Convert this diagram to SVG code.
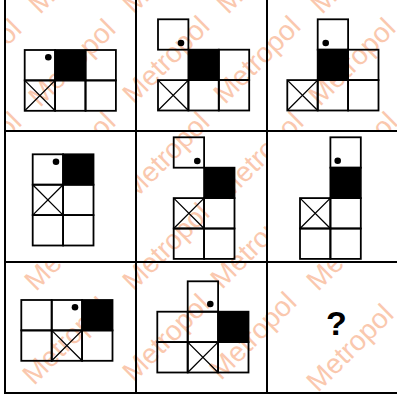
<svg xmlns="http://www.w3.org/2000/svg" width="397" height="396" viewBox="0 0 397 396">
<style>
.wm{font-family:"Liberation Sans",Arial,sans-serif;font-size:28px;fill:#fac8ae}
.sq{fill:none;stroke:#000;stroke-width:1.8}
.bk{fill:#000;stroke:#000;stroke-width:1.8}
.x{stroke:#000;stroke-width:1.3}
.dot{fill:#000}
.grid{fill:none;stroke:#000;stroke-width:2}
.q{font-family:"Liberation Sans",Arial,sans-serif;font-size:34px;font-weight:bold;fill:#000}
</style>
<defs>
<clipPath id="wmclip">
<rect x="5" y="0" width="393" height="131"/>
<rect x="136" y="131" width="131" height="131"/>
<rect x="5" y="262" width="393" height="131"/>
</clipPath>
</defs>
<rect width="397" height="396" fill="#fff"/>
<g id="watermark" clip-path="url(#wmclip)">
<text class="wm" transform="translate(40,15) rotate(-45)">Metropol</text>
<text class="wm" transform="translate(134,15) rotate(-45)">Metropol</text>
<text class="wm" transform="translate(228,15) rotate(-45)">Metropol</text>
<text class="wm" transform="translate(322,15) rotate(-45)">Metropol</text>
<text class="wm" transform="translate(-54,108) rotate(-45)">Metropol</text>
<text class="wm" transform="translate(40,108) rotate(-45)">Metropol</text>
<text class="wm" transform="translate(134,105) rotate(-45)">Metropol</text>
<text class="wm" transform="translate(225,105) rotate(-45)">Metropol</text>
<text class="wm" transform="translate(320,107) rotate(-45)">Metropol</text>
<text class="wm" transform="translate(-54,201) rotate(-45)">Metropol</text>
<text class="wm" transform="translate(40,201) rotate(-45)">Metropol</text>
<text class="wm" transform="translate(134,201) rotate(-45)">Metropol</text>
<text class="wm" transform="translate(228,201) rotate(-45)">Metropol</text>
<text class="wm" transform="translate(322,201) rotate(-45)">Metropol</text>
<text class="wm" transform="translate(-54,294) rotate(-45)">Metropol</text>
<text class="wm" transform="translate(36,292) rotate(-45)">Metropol</text>
<text class="wm" transform="translate(134,292) rotate(-45)">Metropol</text>
<text class="wm" transform="translate(222,290) rotate(-45)">Metropol</text>
<text class="wm" transform="translate(318,292) rotate(-45)">Metropol</text>
<text class="wm" transform="translate(34,386) rotate(-45)">Metropol</text>
<text class="wm" transform="translate(134,383) rotate(-45)">Metropol</text>
<text class="wm" transform="translate(221,381) rotate(-45)">Metropol</text>
<text class="wm" transform="translate(318,393) rotate(-45)">Metropol</text>
</g>
<g id="grid">
<rect class="grid" x="5" y="-1" width="393" height="394"/>
<line class="grid" x1="136" y1="0" x2="136" y2="393"/>
<line class="grid" x1="267" y1="0" x2="267" y2="393"/>
<line class="grid" x1="5" y1="131" x2="398" y2="131"/>
<line class="grid" x1="5" y1="262" x2="398" y2="262"/>
</g>
<g id="cell1">
<rect class="sq" x="24.7" y="50" width="30.4" height="30.4"/>
<rect class="bk" x="55.1" y="50" width="30.4" height="30.4"/>
<rect class="sq" x="85.5" y="50" width="30.4" height="30.4"/>
<rect class="sq" x="24.7" y="80.4" width="30.4" height="30.4"/>
<path class="x" d="M24.7 80.4L55.1 110.8M55.1 80.4L24.7 110.8"/>
<rect class="sq" x="55.1" y="80.4" width="30.4" height="30.4"/>
<rect class="sq" x="85.5" y="80.4" width="30.4" height="30.4"/>
<circle class="dot" cx="48.3" cy="57.3" r="3.3"/>
</g>
<g id="cell2">
<rect class="sq" x="158" y="19.3" width="30.4" height="30.4"/>
<rect class="bk" x="188.4" y="49.7" width="30.4" height="30.4"/>
<rect class="sq" x="218.8" y="49.7" width="30.4" height="30.4"/>
<rect class="sq" x="158" y="80.1" width="30.4" height="30.4"/>
<path class="x" d="M158 80.1L188.4 110.5M188.4 80.1L158 110.5"/>
<rect class="sq" x="188.4" y="80.1" width="30.4" height="30.4"/>
<rect class="sq" x="218.8" y="80.1" width="30.4" height="30.4"/>
<circle class="dot" cx="181" cy="43" r="3.3"/>
</g>
<g id="cell3">
<rect class="sq" x="317.7" y="19.3" width="30.4" height="30.4"/>
<rect class="bk" x="317.7" y="49.7" width="30.4" height="30.4"/>
<rect class="sq" x="348.1" y="49.7" width="30.4" height="30.4"/>
<rect class="sq" x="287.3" y="80.1" width="30.4" height="30.4"/>
<path class="x" d="M287.3 80.1L317.7 110.5M317.7 80.1L287.3 110.5"/>
<rect class="sq" x="317.7" y="80.1" width="30.4" height="30.4"/>
<rect class="sq" x="348.1" y="80.1" width="30.4" height="30.4"/>
<circle class="dot" cx="325.7" cy="43" r="3.3"/>
</g>
<g id="cell4">
<rect class="sq" x="32.7" y="154.3" width="30.4" height="30.4"/>
<rect class="bk" x="63.1" y="154.3" width="30.4" height="30.4"/>
<rect class="sq" x="32.7" y="184.7" width="30.4" height="30.4"/>
<path class="x" d="M32.7 184.7L63.1 215.1M63.1 184.7L32.7 215.1"/>
<rect class="sq" x="63.1" y="184.7" width="30.4" height="30.4"/>
<rect class="sq" x="32.7" y="215.1" width="30.4" height="30.4"/>
<rect class="sq" x="63.1" y="215.1" width="30.4" height="30.4"/>
<circle class="dot" cx="56" cy="161.7" r="3.3"/>
</g>
<g id="cell5">
<rect class="sq" x="173.7" y="137.3" width="30.4" height="30.4"/>
<rect class="bk" x="204.1" y="167.7" width="30.4" height="30.4"/>
<rect class="sq" x="173.7" y="198.1" width="30.4" height="30.4"/>
<path class="x" d="M173.7 198.1L204.1 228.5M204.1 198.1L173.7 228.5"/>
<rect class="sq" x="204.1" y="198.1" width="30.4" height="30.4"/>
<rect class="sq" x="173.7" y="228.5" width="30.4" height="30.4"/>
<rect class="sq" x="204.1" y="228.5" width="30.4" height="30.4"/>
<circle class="dot" cx="197.3" cy="161" r="3.3"/>
</g>
<g id="cell6">
<rect class="sq" x="330.4" y="137.3" width="30.4" height="30.4"/>
<rect class="bk" x="330.4" y="167.7" width="30.4" height="30.4"/>
<rect class="sq" x="300" y="198.1" width="30.4" height="30.4"/>
<path class="x" d="M300 198.1L330.4 228.5M330.4 198.1L300 228.5"/>
<rect class="sq" x="330.4" y="198.1" width="30.4" height="30.4"/>
<rect class="sq" x="300" y="228.5" width="30.4" height="30.4"/>
<rect class="sq" x="330.4" y="228.5" width="30.4" height="30.4"/>
<circle class="dot" cx="337.7" cy="160.7" r="3.3"/>
</g>
<g id="cell7">
<rect class="sq" x="21.3" y="300" width="30.4" height="30.4"/>
<rect class="sq" x="51.7" y="300" width="30.4" height="30.4"/>
<rect class="bk" x="82.1" y="300" width="30.4" height="30.4"/>
<rect class="sq" x="21.3" y="330.4" width="30.4" height="30.4"/>
<rect class="sq" x="51.7" y="330.4" width="30.4" height="30.4"/>
<path class="x" d="M51.7 330.4L82.1 360.8M82.1 330.4L51.7 360.8"/>
<rect class="sq" x="82.1" y="330.4" width="30.4" height="30.4"/>
<circle class="dot" cx="75" cy="307.3" r="3.3"/>
</g>
<g id="cell8">
<rect class="sq" x="187.7" y="281.3" width="30.4" height="30.4"/>
<rect class="sq" x="157.3" y="311.7" width="30.4" height="30.4"/>
<rect class="sq" x="187.7" y="311.7" width="30.4" height="30.4"/>
<rect class="bk" x="218.1" y="311.7" width="30.4" height="30.4"/>
<rect class="sq" x="157.3" y="342.1" width="30.4" height="30.4"/>
<rect class="sq" x="187.7" y="342.1" width="30.4" height="30.4"/>
<path class="x" d="M187.7 342.1L218.1 372.5M218.1 342.1L187.7 372.5"/>
<rect class="sq" x="218.1" y="342.1" width="30.4" height="30.4"/>
<circle class="dot" cx="210.3" cy="304" r="3.3"/>
</g>
<g id="cell9">
<text class="q" x="336.5" y="335" text-anchor="middle">?</text>
</g>
</svg>
